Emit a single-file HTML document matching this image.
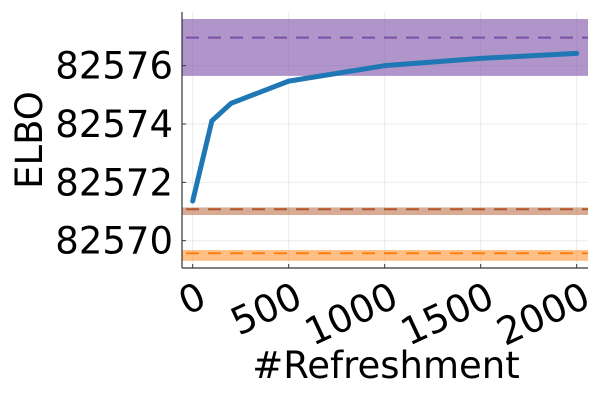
<!DOCTYPE html>
<html><head><meta charset="utf-8"><style>
html,body{margin:0;padding:0;background:#fff;}
svg text{font-family:"DejaVu Sans","Liberation Sans",sans-serif;fill:#000;}
</style></head><body>
<svg id="chart" width="600" height="400" viewBox="0 0 600 400" xmlns="http://www.w3.org/2000/svg">
<g id="grid"></g>
<g id="bands"></g>
<g id="series"></g>
<g id="axes">
<line x1="182" y1="12" x2="182" y2="268" stroke="#333" stroke-width="1.2"/>
<line x1="182" y1="268" x2="588" y2="268" stroke="#333" stroke-width="1.2"/>
</g>
<g id="ticks"></g>
<text transform="translate(42,140) rotate(-90)" text-anchor="middle" font-size="37">ELBO</text>
<text x="386" y="378" text-anchor="middle" font-size="37">#Refreshment</text>
</svg>
<script>
const xValues=[0,100,200,500,1000,1500,2000];
const elboValues=[82571.36,82574.11,82574.71,82575.47,82576.0,82576.25,82576.42];
const refMeans=[82576.96,82571.08,82569.57];
const refLows=[82575.65,82570.88,82569.31];
const refHighs=[82577.6,82571.14,82569.68];
const refColors=["#7b4fa8","#b0582a","#ff7f0e"];
const refBandColors=["rgba(123,79,168,0.6)","rgba(176,88,42,0.5)","rgba(255,127,14,0.5)"];
const xTicks=[0,500,1000,1500,2000];
const yTicks=[82570,82572,82574,82576];
const NS="http://www.w3.org/2000/svg";
const X=v=>192.7+v*0.192;
const Y=v=>240.7-(v-82570)*29.17;
const L=182,R=588,T=12,B=268;
function mk(tag,attrs,parent){const e=document.createElementNS(NS,tag);for(const k in attrs)e.setAttribute(k,attrs[k]);parent.appendChild(e);return e;}
const grid=document.getElementById('grid'),bands=document.getElementById('bands'),series=document.getElementById('series'),ticks=document.getElementById('ticks');
xTicks.forEach(t=>{
 const g=mk('line',{x1:X(t),x2:X(t),y1:T,y2:B,stroke:'#000','stroke-opacity':0.08,'stroke-width':1},grid);
 
 
 const tk=mk('line',{x1:X(t),x2:X(t),y1:B,y2:B-4,stroke:'#333','stroke-width':1},ticks);
 
 
 const tx=mk('text',{transform:`translate(${X(t)+4},${B+12}) rotate(-25)`,'text-anchor':'end','dominant-baseline':'hanging','font-size':38},ticks);
 tx.textContent=t;
 
 
});
yTicks.forEach(t=>{
 const g=mk('line',{x1:L,x2:R,y1:Y(t),y2:Y(t),stroke:'#000','stroke-opacity':0.08,'stroke-width':1},grid);
 
 
 const tk=mk('line',{x1:L,x2:L+4,y1:Y(t),y2:Y(t),stroke:'#333','stroke-width':1},ticks);
 
 
 const tx=mk('text',{x:173,y:Y(t)+13,'text-anchor':'end','font-size':37},ticks);
 tx.textContent=t;
 
 
});
refMeans.forEach((m,i)=>{
 const r=mk('rect',{x:L,width:R-L,y:Y(refHighs[i]),height:Y(refLows[i])-Y(refHighs[i]),fill:refBandColors[i]},bands);
 
 
 const l=mk('line',{x1:L,x2:R,y1:Y(m),y2:Y(m),stroke:refColors[i],'stroke-width':2,'stroke-dasharray':'13 9','stroke-dashoffset':-4},bands);
 
 
});
const p=mk('polyline',{points:xValues.map((x,i)=>X(x)+','+Y(elboValues[i])).join(' '),fill:'none',stroke:'#1f77b4','stroke-width':5,'stroke-linecap':'round','stroke-linejoin':'round'},series);


</script>
</body></html>
